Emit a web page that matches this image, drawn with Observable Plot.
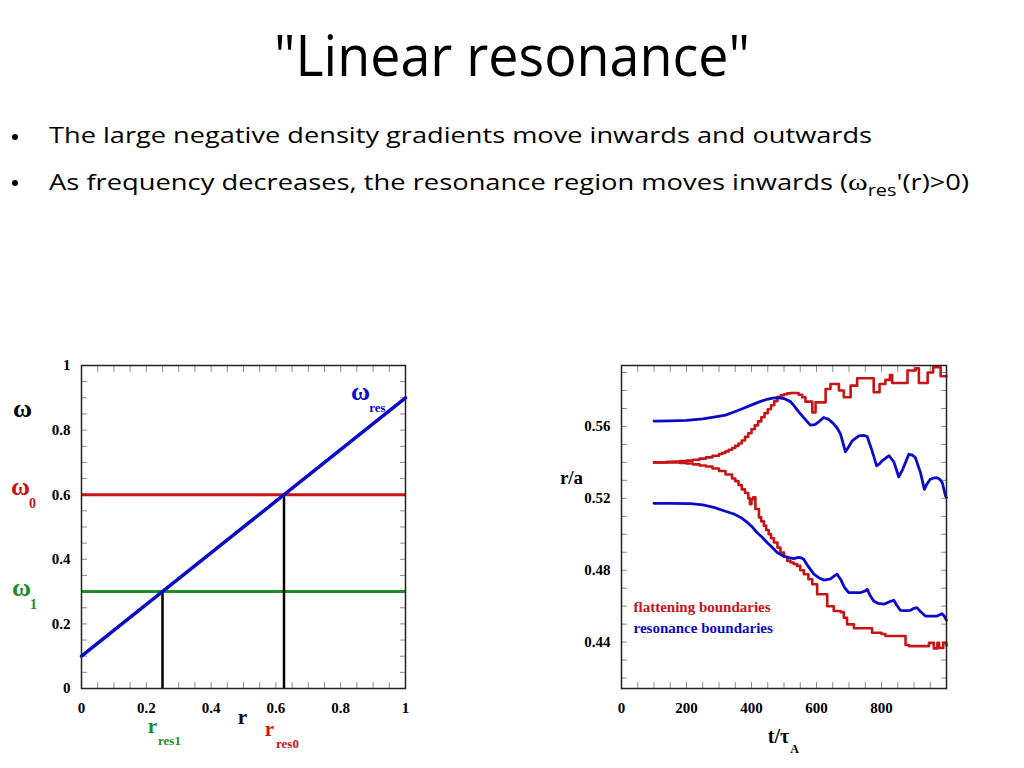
<!DOCTYPE html>
<html>
<head>
<meta charset="utf-8">
<script src="https://cdn.jsdelivr.net/npm/d3@7"></script>
<script src="https://cdn.jsdelivr.net/npm/@observablehq/plot@0.6"></script>
<style>
  html, body { margin: 0; padding: 0; background: #fff; }
  #page { position: relative; width: 1024px; height: 768px; overflow: hidden; background: #fff; }
  #header { position: absolute; left: 0; top: 0; }
  #left { position: absolute; left: 0; top: 340px; }
  #right { position: absolute; left: 540px; top: 340px; }
</style>
</head>
<body>
<div id="page">
  <svg id="header" width="1024" height="210" xmlns="http://www.w3.org/2000/svg">
    <text x="512" y="76" text-anchor="middle" font-family="Open Sans" font-size="57" textLength="476" lengthAdjust="spacingAndGlyphs" fill="#000">"Linear resonance"</text>
    <circle cx="15" cy="137" r="3" fill="#000"/>
    <text x="49" y="143" font-family="Open Sans" font-size="22" textLength="823" lengthAdjust="spacingAndGlyphs" fill="#000">The large negative density gradients move inwards and outwards</text>
    <circle cx="15" cy="183" r="3" fill="#000"/>
    <text x="49" y="190" font-family="Open Sans" font-size="22" textLength="920" lengthAdjust="spacingAndGlyphs" fill="#000">As frequency decreases, the resonance region moves inwards (<tspan font-family="Liberation Serif" font-size="24">ω</tspan><tspan dy="6" font-size="16">res</tspan><tspan dy="-6">'(r)&gt;0)</tspan></text>
  </svg>
  <div id="left"></div>
  <div id="right"></div>
</div>
<script>
// ---------- Left chart data ----------
const rLine = [0, 1];
const omegaResLine = [0.1, 0.9];
const omegaLevels = [0.6, 0.3];          // omega0, omega1
const rRes = [0.625, 0.25];              // r_res0, r_res1
const leftXTicks = [0, 0.2, 0.4, 0.6, 0.8, 1];
const leftYTicks = [0, 0.2, 0.4, 0.6, 0.8, 1];

// ---------- Right chart data ----------
const tFlatOuter = [100,120,140,160,180,200,220,240,260,280,300,310,320,330,340,350,360,370,380,390,400,410,420,430,440,450,460,470,480,490,500,510,520,535,545,556,566,580,587,597,620,628,643,660,669,684,700,705,725,766,776,790,794,812,826,833,876,880,905,915,937,942,959,978,982,1000];
const flatOuter = [.5400,.5400,.5403,.5405,.5408,.5410,.5415,.5421,.5428,.5437,.5447,.5453,.5461,.5470,.5480,.5492,.5505,.5522,.5542,.5562,.5584,.5606,.5628,.5651,.5673,.5696,.5718,.5741,.5763,.5773,.5779,.5784,.5786,.5786,.5776,.5762,.5738,.5738,.5678,.5734,.5734,.5808,.5836,.5836,.5800,.5762,.5762,.5827,.5868,.5868,.5790,.5790,.5836,.5859,.5886,.5842,.5842,.5911,.5924,.5842,.5842,.5900,.5929,.5929,.5879,.5879];

const tFlatInner = [100,140,180,200,220,240,260,280,300,320,340,350,360,370,380,390,395,400,405,412,423,430,438,445,453,460,469,480,489,500,510,520,530,540,550,561,575,587,602,618,633,653,674,684,694,715,750,771,800,812,850,869,874,884,936,946,956,961,972,977,990,1000];
const flatInner = [.5400,.5400,.5397,.5394,.5389,.5383,.5377,.5366,.5352,.5333,.5310,.5296,.5274,.5250,.5230,.5200,.5168,.5195,.5206,.5141,.5094,.5072,.5048,.5024,.5001,.4978,.4954,.4926,.4899,.4875,.4852,.4843,.4835,.4824,.4800,.4778,.4750,.4722,.4666,.4666,.4600,.4573,.4567,.4536,.4499,.4477,.4477,.4452,.4445,.4434,.4434,.4434,.4384,.4378,.4378,.4396,.4396,.4365,.4396,.4368,.4396,.4380];

const tResOuter = [100,150,200,250,284,320,346,370,397,420,448,465,480,490,500,520,530,546,560,581,595,610,622,636,650,664,674,689,700,710,730,745,756,771,785,793,802,823,838,853,865,874,884,895,904,920,932,940,950,960,971,980,987,997,1000];
const resOuter = [.5630,.5631,.5634,.5642,.5652,.5663,.5680,.5697,.5717,.5734,.5751,.5758,.5760,.5758,.5755,.5738,.5717,.5680,.5650,.5607,.5610,.5630,.5650,.5641,.5620,.5590,.5557,.5459,.5490,.5520,.5548,.5550,.5544,.5464,.5381,.5390,.5409,.5437,.5403,.5320,.5360,.5400,.5445,.5440,.5427,.5343,.5250,.5280,.5306,.5313,.5315,.5305,.5287,.5213,.5205];

const tResInner = [100,150,212,250,284,315,346,370,387,400,417,432,448,465,479,495,510,530,545,555,561,575,592,610,623,643,656,663,674,686,699,720,735,750,756,765,776,790,807,825,838,847,858,875,889,900,909,920,935,955,971,986,993,1000];
const resInner = [.5172,.5172,.5170,.5163,.5150,.5131,.5113,.5090,.5066,.5045,.5010,.4985,.4954,.4925,.4899,.4882,.4871,.4865,.4871,.4868,.4860,.4820,.4778,.4755,.4745,.4752,.4770,.4778,.4750,.4705,.4675,.4675,.4675,.4685,.4694,.4660,.4629,.4615,.4611,.4625,.4633,.4605,.4577,.4575,.4577,.4588,.4592,.4570,.4545,.4545,.4545,.4558,.4545,.4521];

const rightXTicks = [0, 200, 400, 600, 800];
const rightYTicks = [0.44, 0.48, 0.52, 0.56];
const legendLabels = ["flattening boundaries", "resonance boundaries"];

// ---------- styling ----------
const RED = "#c81414", BLUE = "#0a0ac8", GREEN = "#1e8c28", TICK = "#8c8c8c";
const SERIF = "Liberation Serif";
const plotStyle = {fontFamily: SERIF, fontWeight: "bold", fontSize: "15px", background: "#fff", overflow: "visible"};

// label helper: page px relative to frame origin (centre of text unless overridden)
function lbl(text, dx, dy, o = {}) {
  return Plot.text([text], {text: d => d, frameAnchor: "top-left", dx, dy, textAnchor: "middle", lineAnchor: "middle",
    fontFamily: SERIF, fontWeight: "bold", ...o});
}

function tickMarks(xMinor, yMinor) {
  const common = {tickFormat: () => "", label: null, stroke: TICK, tickSize: -6};
  return [
    Plot.axisX(xMinor, {anchor: "bottom", ...common}),
    Plot.axisX(xMinor, {anchor: "top", ...common}),
    Plot.axisY(yMinor, {anchor: "left", ...common}),
    Plot.axisY(yMinor, {anchor: "right", ...common})
  ];
}

// ---------- Left chart ----------
const leftX0 = 81, leftY0 = 365;
const leftMinorX = d3.range(0, 1.0001, 0.05).map(v => +v.toFixed(2));
const leftMinorY = d3.range(0, 1.0001, 0.05).map(v => +v.toFixed(2));

const left = Plot.plot({
  width: 430, height: 418,
  marginLeft: 81, marginRight: 25, marginTop: 25, marginBottom: 70,
  style: plotStyle,
  x: {domain: [0, 1]},
  y: {domain: [0, 1]},
  marks: [
    ...tickMarks(leftMinorX, leftMinorY),
    Plot.axisX(leftXTicks, {anchor: "bottom", tickSize: 0, tickPadding: 14, label: null, tickFormat: d => String(d), fontSize: 15, fontWeight: "bold"}),
    Plot.axisY(leftYTicks, {anchor: "left", tickSize: 0, tickPadding: 11, label: null, tickFormat: d => String(d), fontSize: 15, fontWeight: "bold"}),
    Plot.ruleY([omegaLevels[0]], {y: d => d, stroke: RED, strokeWidth: 3}),
    Plot.ruleY([omegaLevels[1]], {y: d => d, stroke: GREEN, strokeWidth: 3}),
    Plot.ruleX(rRes, {x: d => d, y1: 0, y2: (d, i) => omegaLevels[i], stroke: "#000", strokeWidth: 2.5}),
    Plot.line(rLine.map((r, i) => [r, omegaResLine[i]]), {x: d => d[0], y: d => d[1], stroke: BLUE, strokeWidth: 3.5}),
    Plot.frame({stroke: "#222", strokeWidth: 1.5}),
    // labels
    lbl("ω", 22 - leftX0, 408 - leftY0, {fontSize: 26, fill: "#000"}),
    lbl("ω", 20 - leftX0, 486 - leftY0, {fontSize: 26, fill: RED}),
    lbl("0", 32 - leftX0, 503 - leftY0, {fontSize: 14, fill: RED}),
    lbl("ω", 21 - leftX0, 587 - leftY0, {fontSize: 26, fill: GREEN}),
    lbl("1", 33 - leftX0, 604 - leftY0, {fontSize: 14, fill: GREEN}),
    lbl("ω", 360 - leftX0, 391 - leftY0, {fontSize: 26, fill: BLUE}),
    lbl("res", 377 - leftX0, 407 - leftY0, {fontSize: 13, fill: BLUE}),
    lbl("r", 242 - leftX0, 717 - leftY0, {fontSize: 21, fill: "#000"}),
    lbl("r", 152 - leftX0, 726 - leftY0, {fontSize: 21, fill: GREEN}),
    lbl("res1", 169 - leftX0, 740 - leftY0, {fontSize: 13, fill: GREEN}),
    lbl("r", 269 - leftX0, 729 - leftY0, {fontSize: 21, fill: RED}),
    lbl("res0", 287 - leftX0, 743 - leftY0, {fontSize: 13, fill: RED})
  ]
});
document.getElementById("left").appendChild(left);

// ---------- Right chart ----------
const rightX0 = 621, rightY0 = 365;
const rightMinorX = d3.range(0, 1000.1, 50);
const rightMinorY = d3.range(0.42, 0.5901, 0.01).map(v => +v.toFixed(2));

const right = Plot.plot({
  width: 446, height: 418,
  marginLeft: 81, marginRight: 40, marginTop: 25, marginBottom: 70,
  style: plotStyle,
  x: {domain: [0, 1000]},
  y: {domain: [0.4142, 0.5939]},
  marks: [
    ...tickMarks(rightMinorX, rightMinorY),
    Plot.axisX(rightXTicks, {anchor: "bottom", tickSize: 0, tickPadding: 14, label: null, tickFormat: d => String(d), fontSize: 15, fontWeight: "bold"}),
    Plot.axisY(rightYTicks, {anchor: "left", tickSize: 0, tickPadding: 11, label: null, tickFormat: d => String(d), fontSize: 15, fontWeight: "bold"}),
    Plot.line(tFlatOuter.map((t, i) => [t, flatOuter[i]]), {x: d => d[0], y: d => d[1], curve: "step-after", stroke: RED, strokeWidth: 2.6}),
    Plot.line(tFlatInner.map((t, i) => [t, flatInner[i]]), {x: d => d[0], y: d => d[1], curve: "step-after", stroke: RED, strokeWidth: 2.6}),
    Plot.line(tResOuter.map((t, i) => [t, resOuter[i]]), {x: d => d[0], y: d => d[1], stroke: BLUE, strokeWidth: 2.8}),
    Plot.line(tResInner.map((t, i) => [t, resInner[i]]), {x: d => d[0], y: d => d[1], stroke: BLUE, strokeWidth: 2.8}),
    Plot.frame({stroke: "#222", strokeWidth: 1.5}),
    lbl("r/a", 571 - rightX0, 477 - rightY0, {fontSize: 19, fill: "#000"}),
    lbl("t/τ", 778 - rightX0, 736 - rightY0, {fontSize: 20, fill: "#000"}),
    lbl("A", 794 - rightX0, 749 - rightY0, {fontSize: 12, fill: "#000"}),
    lbl(legendLabels[0], 633 - rightX0, 607 - rightY0, {fontSize: 15, fill: RED, textAnchor: "start"}),
    lbl(legendLabels[1], 633 - rightX0, 628 - rightY0, {fontSize: 15, fill: BLUE, textAnchor: "start"})
  ]
});
document.getElementById("right").appendChild(right);
</script>
</body>
</html>
